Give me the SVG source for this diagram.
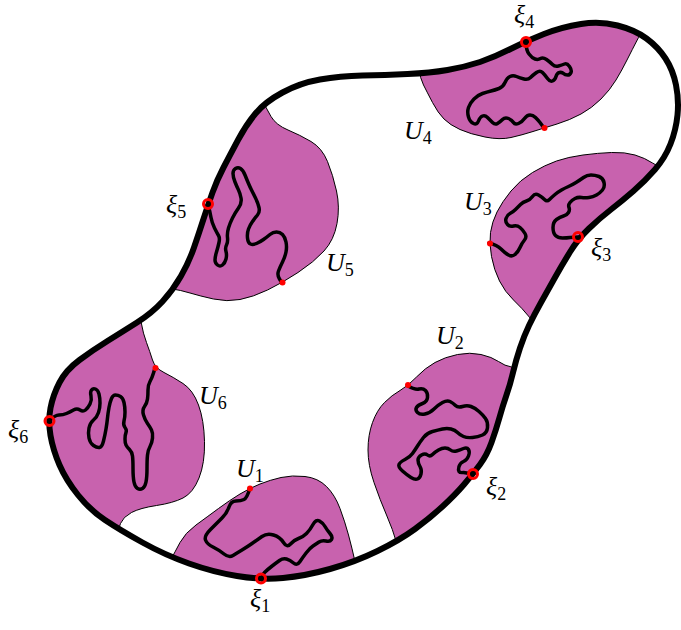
<svg xmlns="http://www.w3.org/2000/svg" width="681" height="630" viewBox="0 0 681 630">
<style>
.reg{fill:#c862ae;stroke:#000;stroke-width:1}
.sq{fill:none;stroke:#000;stroke-width:3.5;stroke-linecap:round;stroke-linejoin:round}
.bd{fill:none;stroke:#000;stroke-width:6}
.xi{fill:none;stroke:#f00;stroke-width:3}
.dot{fill:#f00}
.lb{font-family:"Liberation Serif","DejaVu Serif",serif;font-style:italic;font-size:26px;fill:#000}
.sb{font-style:normal;font-size:18px}
</style>
<defs>
<path id="blob" d="M 237,576 Q 261,580 283,578 Q 305,576 330,569 Q 355,562 377.5,551 Q 400,540 415,529 Q 430,518 442.5,506.5 Q 455,495 464,484.5 Q 473,474 480,464.5 Q 487,455 491.5,442.5 Q 496,430 499.5,417.5 Q 503,405 506.5,395 Q 510,385 513,372.5 Q 516,360 520,348 Q 524,336 529,325.5 Q 534,315 541,302.5 Q 548,290 555,277.5 Q 562,265 570,252 Q 578,239 589,228.5 Q 600,218 611,209.5 Q 622,201 633.5,191 Q 645,181 655,169.5 Q 665,158 670.5,144 Q 676,130 677.5,115 Q 679,100 676,85 Q 673,70 665.5,58.5 Q 658,47 646.5,38.5 Q 635,30 617.5,25.5 Q 600,21 581,24 Q 562,27 544,34 Q 526,41 510.5,49 Q 495,57 480,62 Q 465,67 447.5,70 Q 430,73 407.5,74 Q 385,75 362.5,75.5 Q 340,76 320,79.5 Q 300,83 282.5,92.5 Q 265,102 255.5,113.5 Q 246,125 238,140 Q 230,155 223.5,167.5 Q 217,180 212.5,192.5 Q 208,205 203.5,219 Q 199,233 194,247.5 Q 189,262 181,276 Q 173,290 162.5,301.5 Q 152,313 137,322.5 Q 122,332 107.5,341 Q 93,350 79.5,360 Q 66,370 59.5,382.5 Q 53,395 50.5,408 Q 48,421 50.5,435.5 Q 53,450 59.5,465 Q 66,480 78,495 Q 90,510 105,520 Q 120,530 142.5,542.5 Q 165,555 189,563.5 Q 213,572 237,576 Z"/>
<clipPath id="inside"><use href="#blob"/></clipPath>
</defs>

<g id="U1">
<path class="reg" clip-path="url(#inside)" d="M 165,570 L 170,561 Q 175,552 180,542.5 Q 185,533 196,525 Q 207,517 218.5,508.5 Q 230,500 240,494 Q 250,488 260,484 Q 270,480 281,477.5 Q 292,475 305,476.5 Q 318,478 326.5,486.5 Q 335,495 340,508.5 Q 345,522 348.5,535 Q 352,548 355,561.5 L 358,575 L 358,600 L 165,600 Z"/>
<path class="sq" d="M 250,488 Q 247,498 244,499.5 Q 241,501 236,501 Q 231,501 229,507 Q 227,513 222,518 Q 217,523 210.5,529.5 Q 204,536 205.5,540 Q 207,544 213,547 Q 219,550 224,554 Q 229,558 233,555.5 Q 237,553 242,550 Q 247,547 252,543.5 Q 257,540 262,536.5 Q 267,533 273.5,535 Q 280,537 283.5,542.5 Q 287,548 290.5,544 Q 294,540 298.5,538.5 Q 303,537 306.5,533.5 Q 310,530 313,524.5 Q 316,519 319.5,521 Q 323,523 325,526.5 Q 327,530 330,533.5 Q 333,537 331.5,539.5 Q 330,542 326,541 Q 322,540 319,542 Q 316,544 313,546 Q 310,548 306.5,552.5 Q 303,557 300,561.5 Q 297,566 293.5,563 Q 290,560 286.5,559 Q 283,558 279.5,560.5 Q 276,563 271.5,566.5 Q 267,570 264.5,572.5 Q 262,575 262,580"/>
<circle class="dot" cx="250" cy="488.5" r="3"/>
<text class="lb" x="236" y="477">U<tspan class="sb" dy="5">1</tspan></text>
</g>

<g id="U2">
<path class="reg" clip-path="url(#inside)" d="M 400,555 L 396.5,542.5 Q 393,530 386.5,515 Q 380,500 374,482.5 Q 368,465 368,450 Q 368,435 372.5,422.5 Q 377,410 384.5,402.5 Q 392,395 400,390.5 Q 408,386 416.5,377 Q 425,368 435,362.5 Q 445,357 457.5,354.5 Q 470,352 481,354.5 Q 492,357 498.5,361.5 Q 505,366 511.5,367 L 530,368 L 540,370 L 540,560 Z"/>
<path class="sq" d="M 408,386 Q 415,390 419,389 Q 423,388 425.5,390.5 Q 428,393 427.5,397.5 Q 427,402 422.5,403.5 Q 418,405 416.5,407.5 Q 415,410 417.5,412.5 Q 420,415 425,414 Q 430,413 434,409 Q 438,405 442.5,402.5 Q 447,400 450,401.5 Q 453,403 455.5,405.5 Q 458,408 462.5,406.5 Q 467,405 471,406.5 Q 475,408 479,411.5 Q 483,415 485.5,418.5 Q 488,422 487.5,427.5 Q 487,433 482.5,435 Q 478,437 472.5,437.5 Q 467,438 463.5,436.5 Q 460,435 457.5,432.5 Q 455,430 451,429 Q 447,428 442.5,429 Q 438,430 432.5,431.5 Q 427,433 423.5,437.5 Q 420,442 417.5,446 Q 415,450 412.5,453.5 Q 410,457 405,459.5 Q 400,462 399,464.5 Q 398,467 402.5,471 Q 407,475 411,477.5 Q 415,480 417.5,479 Q 420,478 421,474 Q 422,470 420,466.5 Q 418,463 418,460 Q 418,457 421.5,455 Q 425,453 427.5,455 Q 430,457 432.5,454.5 Q 435,452 438.5,450 Q 442,448 445,448 Q 448,448 450.5,450 Q 453,452 456.5,451 Q 460,450 463.5,448.5 Q 467,447 468.5,449.5 Q 470,452 468.5,456 Q 467,460 463.5,461.5 Q 460,463 459,466.5 Q 458,470 459,471.5 Q 460,473 463.5,472.5 L 473,474"/>
<circle class="dot" cx="408" cy="385" r="3"/>
<text class="lb" x="436" y="344">U<tspan class="sb" dy="5">2</tspan></text>
</g>

<g id="U3">
<path class="reg" clip-path="url(#inside)" d="M 540,330 L 531,319 Q 522,308 513.5,300 Q 505,292 499.5,281 Q 494,270 491.5,256.5 Q 489,243 490.5,232.5 Q 492,222 497,212 Q 502,202 511,191 Q 520,180 532.5,172.5 Q 545,165 556.5,161 Q 568,157 583,155 Q 598,153 611.5,152.5 Q 625,152 635,155 Q 645,158 652.5,163 Q 660,168 670,171.5 L 690,175 L 690,330 Z"/>
<path class="sq" d="M 489,243 Q 497,245 501,249 Q 505,253 508.5,255 Q 512,257 515,254.5 Q 518,252 520,247.5 Q 522,243 524.5,240 Q 527,237 525,233.5 Q 523,230 520,227.5 Q 517,225 513.5,226 Q 510,227 507.5,224.5 Q 505,222 506,218.5 Q 507,215 510,213.5 Q 513,212 515.5,209.5 Q 518,207 520.5,204.5 Q 523,202 526.5,201 Q 530,200 532.5,196.5 Q 535,193 538.5,195 Q 542,197 544.5,199.5 Q 547,202 549.5,199.5 Q 552,197 555,194.5 Q 558,192 561.5,190 Q 565,188 568.5,186.5 Q 572,185 576,182.5 Q 580,180 583.5,177.5 Q 587,175 591,175 Q 595,175 599,176.5 Q 603,178 604,182.5 Q 605,187 602.5,190 Q 600,193 596.5,195 Q 593,197 589,197.5 Q 585,198 581.5,197.5 Q 578,197 575,198.5 Q 572,200 570,202.5 Q 568,205 569,207.5 Q 570,210 568.5,212.5 Q 567,215 563.5,216 Q 560,217 556.5,219.5 Q 553,222 553,227.5 Q 553,233 555.5,235.5 Q 558,238 562.5,238 Q 567,238 570,237.5 L 578,237"/>
<circle class="dot" cx="490" cy="243.5" r="3"/>
<text class="lb" x="464" y="210">U<tspan class="sb" dy="5">3</tspan></text>
</g>

<g id="U4">
<path class="reg" clip-path="url(#inside)" d="M 418,60 L 419,69 Q 420,78 423.5,85 Q 427,92 432.5,102.5 Q 438,113 444,119 Q 450,125 460,129.5 Q 470,134 485,137 Q 500,140 511,137.5 Q 522,135 533,131.5 Q 544,128 557,124 Q 570,120 581,114 Q 592,108 601,99 Q 610,90 616,80 Q 622,70 627,60 Q 632,50 638.5,37.5 L 645,25 L 650,0 L 418,0 Z"/>
<path class="sq" d="M 526,42 Q 526,50 529,54 Q 532,58 535,59 Q 538,60 540.5,58.5 Q 543,57 546.5,59.5 Q 550,62 552.5,64.5 Q 555,67 558.5,66 Q 562,65 564.5,64 Q 567,63 569.5,66.5 Q 572,70 571,72.5 Q 570,75 567.5,75 Q 565,75 563.5,73.5 Q 562,72 559.5,72.5 Q 557,73 556,76.5 Q 555,80 552.5,81 Q 550,82 547.5,78.5 Q 545,75 542.5,72.5 Q 540,70 536.5,72.5 Q 533,75 530.5,77.5 Q 528,80 524,79 Q 520,78 516.5,76.5 Q 513,75 510,76.5 Q 507,78 505,82.5 Q 503,87 499,88.5 Q 495,90 491,91 Q 487,92 482.5,93.5 Q 478,95 474,99 Q 470,103 468.5,107.5 Q 467,112 468.5,117 Q 470,122 473.5,123.5 Q 477,125 478.5,121 Q 480,117 482.5,116 Q 485,115 487.5,117.5 Q 490,120 492.5,122.5 Q 495,125 497.5,123.5 Q 500,122 502.5,119.5 Q 505,117 508.5,118.5 Q 512,120 513.5,122.5 Q 515,125 518.5,123.5 Q 522,122 524.5,118.5 Q 527,115 530,115 Q 533,115 535.5,117.5 Q 538,120 540,122.5 L 544,128"/>
<circle class="dot" cx="544.5" cy="128" r="3"/>
<text class="lb" x="404" y="139">U<tspan class="sb" dy="5">4</tspan></text>
</g>

<g id="U5">
<path class="reg" clip-path="url(#inside)" d="M 258,90 L 262,99 Q 266,108 271,116.5 Q 276,125 288,130 Q 300,135 311,141.5 Q 322,148 327.5,161.5 Q 333,175 336.5,191 Q 340,207 337,223.5 Q 334,240 324,251 Q 314,262 298,272.5 Q 282,283 267.5,290 Q 253,297 240,299.5 Q 227,302 213.5,299 Q 200,296 190,293 Q 180,290 172.5,289 L 165,288 L 160,90 Z"/>
<path class="sq" d="M 208,204 Q 210,212 211,217.5 Q 212,223 214.5,228 Q 217,233 218.5,235.5 Q 220,238 219,242.5 Q 218,247 216.5,252 Q 215,257 215,260 Q 215,263 217.5,265 Q 220,267 222.5,265 Q 225,263 226,259 Q 227,255 226,251.5 Q 225,248 226.5,245 Q 228,242 227.5,237.5 Q 227,233 228.5,228 Q 230,223 232.5,218 Q 235,213 238.5,208 Q 242,203 241,198 Q 240,193 238.5,190 Q 237,187 235,182 Q 233,177 233,173.5 Q 233,170 235.5,168.5 Q 238,167 240.5,168.5 Q 243,170 245,175 Q 247,180 248.5,183.5 Q 250,187 251.5,190 Q 253,193 255.5,198 Q 258,203 259,207.5 Q 260,212 257.5,215 Q 255,218 252.5,221.5 Q 250,225 248.5,229 Q 247,233 247.5,238 Q 248,243 250.5,244 Q 253,245 256.5,243.5 Q 260,242 263.5,239.5 Q 267,237 270,234.5 Q 273,232 276.5,232 Q 280,232 282.5,234.5 Q 285,237 286,242 Q 287,247 286,252 Q 285,257 282.5,262 Q 280,267 278.5,271 Q 277,275 279.5,279 L 282,283"/>
<circle class="dot" cx="282.5" cy="282.5" r="3"/>
<text class="lb" x="326" y="271">U<tspan class="sb" dy="5">5</tspan></text>
</g>

<g id="U6">
<path class="reg" clip-path="url(#inside)" d="M 140,315 L 141.5,324 Q 143,333 146.5,342.5 Q 150,352 152.5,360 Q 155,368 164,372.5 Q 173,377 183,383.5 Q 193,390 198.5,405 Q 204,420 204.5,441.5 Q 205,463 199,478 Q 193,493 183,498 Q 173,503 156.5,505.5 Q 140,508 131.5,512.5 Q 123,517 120.5,523.5 Q 118,530 116.5,537.5 L 115,545 L 30,545 L 30,315 Z"/>
<path class="sq" d="M 49,421 Q 55,415 59,415 Q 63,415 66.5,413.5 Q 70,412 73.5,410 Q 77,408 80,410 Q 83,412 85.5,410 Q 88,408 90,404 Q 92,400 91,396 Q 90,392 91.5,390 Q 93,388 95.5,389 Q 98,390 99,394 Q 100,398 100,403 Q 100,408 98.5,412.5 Q 97,417 93.5,420 Q 90,423 89,428 Q 88,433 89,438 Q 90,443 93.5,445.5 Q 97,448 99.5,447.5 Q 102,447 103.5,441 Q 105,435 106,429 Q 107,423 107.5,418 Q 108,413 109,407.5 Q 110,402 111.5,398.5 Q 113,395 115.5,395 Q 118,395 120.5,396.5 Q 123,398 124,402.5 Q 125,407 125,412 Q 125,417 124,421 Q 123,425 125,427.5 Q 127,430 126,432.5 Q 125,435 125,439 Q 125,443 126,445 Q 127,447 129.5,449.5 Q 132,452 132.5,456 Q 133,460 133,468.5 Q 133,477 134,482 Q 135,487 137.5,488.5 Q 140,490 142.5,488.5 Q 145,487 146,482 Q 147,477 147,468.5 Q 147,460 147.5,455 Q 148,450 150,446.5 Q 152,443 152.5,438 Q 153,433 151.5,430 Q 150,427 147.5,423.5 Q 145,420 143.5,415 Q 142,410 144.5,406.5 Q 147,403 147.5,399 Q 148,395 148,390 Q 148,385 150,381.5 Q 152,378 153.5,373 L 155,368"/>
<circle class="dot" cx="155.5" cy="368" r="3"/>
<text class="lb" x="199" y="404">U<tspan class="sb" dy="5">6</tspan></text>
</g>

<g id="connectors">
<use href="#blob" class="bd"/>
</g>

<g id="xi1"><circle class="xi" cx="261" cy="578.5" r="4.5"/><text class="lb" x="250" y="607">ξ<tspan class="sb" dy="5">1</tspan></text></g>
<g id="xi2"><circle class="xi" cx="473" cy="474" r="4.5"/><text class="lb" x="486" y="495">ξ<tspan class="sb" dy="5">2</tspan></text></g>
<g id="xi3"><circle class="xi" cx="578" cy="237" r="4.5"/><text class="lb" x="591" y="256">ξ<tspan class="sb" dy="5">3</tspan></text></g>
<g id="xi4"><circle class="xi" cx="526" cy="42" r="4.5"/><text class="lb" x="514" y="23">ξ<tspan class="sb" dy="5">4</tspan></text></g>
<g id="xi5"><circle class="xi" cx="208" cy="204" r="4.5"/><text class="lb" x="166" y="213">ξ<tspan class="sb" dy="5">5</tspan></text></g>
<g id="xi6"><circle class="xi" cx="49.5" cy="421" r="4.5"/><text class="lb" x="8" y="438">ξ<tspan class="sb" dy="5">6</tspan></text></g>
</svg>
